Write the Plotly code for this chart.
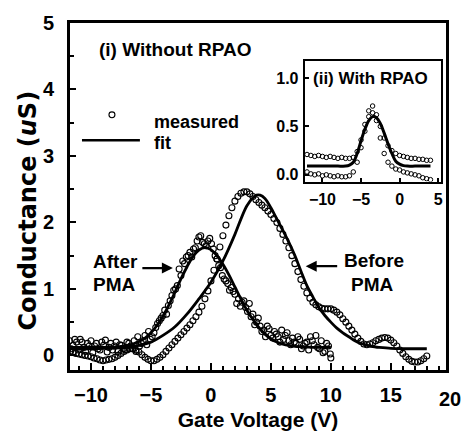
import plotly.graph_objects as go

# ---------------- data ----------------
# Main panel: Before PMA measured (smooth sweep)
before_x = [-11.75 + 0.25 * i for i in range(120)]
before_y = [0.06, 0.05, 0.03, 0.02, 0.01, 0.0, -0.01, -0.02, -0.04, -0.05,
            -0.07, -0.08, -0.07, -0.06, -0.05, -0.03, 0.0, 0.03, 0.06, 0.08,
            0.1, 0.1, 0.08, 0.05, 0.01, -0.03, -0.06, -0.08, -0.08, -0.06,
            -0.03, 0.01, 0.06, 0.11, 0.16, 0.21, 0.26, 0.31, 0.36, 0.41,
            0.46, 0.52, 0.58, 0.65, 0.74, 0.85, 0.97, 1.12, 1.28, 1.45,
            1.63, 1.8, 1.96, 2.1, 2.22, 2.32, 2.39, 2.44, 2.46, 2.46,
            2.43, 2.39, 2.34, 2.3, 2.26, 2.22, 2.17, 2.12, 2.06, 2.0,
            1.91, 1.82, 1.72, 1.62, 1.5, 1.38, 1.26, 1.14, 1.04, 0.94,
            0.86, 0.8, 0.76, 0.73, 0.71, 0.7, 0.7, 0.7, 0.68, 0.65,
            0.61, 0.55, 0.5, 0.44, 0.38, 0.32, 0.26, 0.21, 0.17, 0.16,
            0.17, 0.19, 0.22, 0.24, 0.26, 0.27, 0.26, 0.23, 0.19, 0.14,
            0.08, 0.03, -0.02, -0.06, -0.09, -0.1, -0.1, -0.08, -0.05, -0.01]
before_x = before_x[:len(before_y)]

# After PMA measured (two scattered passes)
afterA_x = [-11.8, -11.5, -11.2, -10.9, -10.6, -10.3, -10.0, -9.7, -9.4, -9.1,
            -8.8, -8.5, -8.2, -7.9, -7.6, -7.3, -7.0, -6.7, -6.4, -6.1,
            -5.8, -5.5, -5.2, -4.9, -4.6, -4.3, -4.0, -3.7, -3.4, -3.1,
            -2.8, -2.5, -2.2, -1.9, -1.6, -1.3, -1.0, -0.7, -0.4, -0.1,
            0.2, 0.5, 0.8, 1.1, 1.4, 1.7, 2.0, 2.3, 2.6, 2.9,
            3.2, 3.5, 3.8, 4.1, 4.4, 4.7, 5.0, 5.3, 5.6, 5.9,
            6.2, 6.5, 6.8, 7.1, 7.4, 7.7, 8.0, 8.3, 8.6, 8.9,
            9.2, 9.5, 9.8, 10.0]
afterA_y = [0.22, 0.15, 0.2, 0.24, 0.12, 0.18, 0.22, 0.14, 0.1, 0.2,
            0.23, 0.12, 0.08, 0.2, 0.16, 0.1, 0.2, 0.14, 0.22, 0.28,
            0.18, 0.3, 0.36, 0.28, 0.42, 0.52, 0.6, 0.62, 0.82, 0.98,
            1.05, 1.2, 1.38, 1.5, 1.48, 1.62, 1.78, 1.7, 1.65, 1.76,
            1.6, 1.45, 1.32, 1.15, 1.08, 1.02, 0.92, 0.85, 0.8, 0.72,
            0.78, 0.62, 0.5, 0.44, 0.38, 0.44, 0.3, 0.36, 0.28, 0.38,
            0.3, 0.22, 0.26, 0.18, 0.24, 0.14, 0.2, 0.28, 0.16, 0.12,
            0.22, 0.06, 0.14, -0.04]
afterB_x = [-11.65, -11.35, -11.05, -10.75, -10.45, -10.15, -9.85, -9.55, -9.25, -8.95,
            -8.65, -8.35, -8.05, -7.75, -7.45, -7.15, -6.85, -6.55, -6.25, -5.95,
            -5.65, -5.35, -5.05, -4.75, -4.45, -4.15, -3.85, -3.55, -3.25, -2.95,
            -2.65, -2.35, -2.05, -1.75, -1.45, -1.15, -0.85, -0.55, -0.25, 0.05,
            0.35, 0.65, 0.95, 1.25, 1.55, 1.85, 2.15, 2.45, 2.75, 3.05,
            3.35, 3.65, 3.95, 4.25, 4.55, 4.85, 5.15, 5.45, 5.75, 6.05,
            6.35, 6.65, 6.95, 7.25, 7.55, 7.85, 8.15, 8.45, 8.75, 9.05,
            9.35, 9.65, 9.95]
afterB_y = [0.1, 0.24, 0.08, 0.2, 0.06, 0.14, 0.04, 0.18, 0.08, 0.15,
            0.05, 0.18, 0.14, 0.06, 0.15, 0.08, 0.18, 0.1, 0.06, 0.14,
            0.22, 0.16, 0.24, 0.34, 0.48, 0.56, 0.68, 0.75, 0.9, 1.0,
            1.3, 1.42, 1.48, 1.55, 1.6, 1.72, 1.8, 1.68, 1.72, 1.68,
            1.5, 1.35, 1.2, 1.12, 0.98, 0.96, 0.78, 0.74, 0.82, 0.66,
            0.58, 0.46, 0.56, 0.36, 0.28, 0.4, 0.26, 0.32, 0.2, 0.24,
            0.34, 0.16, 0.2, 0.28, 0.1, 0.18, 0.08, 0.22, 0.3, 0.1,
            0.04, 0.18, 0.02]

# Fits
fit_after_x = [-12, -11.5, -11, -10.5, -10, -9.5, -9, -8.5, -8, -7.5, -7, -6.5, -6, -5.5,
               -5, -4.5, -4, -3.5, -3, -2.5, -2, -1.5, -1, -0.5, 0, 0.5, 1, 1.5, 2, 2.5,
               3, 3.5, 4, 4.5, 5, 5.5, 6, 6.5, 7, 7.5, 8, 8.5, 9, 9.5, 10]
fit_after_y = [0.12, 0.12, 0.12, 0.12, 0.12, 0.12, 0.121, 0.122, 0.125, 0.135, 0.15, 0.17,
               0.21, 0.26, 0.34, 0.45, 0.59, 0.76, 0.95, 1.15, 1.33, 1.485, 1.585, 1.62,
               1.59, 1.5, 1.37, 1.21, 1.03, 0.85, 0.68, 0.54, 0.42, 0.32, 0.25, 0.2, 0.17,
               0.15, 0.137, 0.13, 0.125, 0.12, 0.12, 0.12, 0.12]
fit_before_x = [-12, -11, -10, -9, -8, -7, -6, -5, -4, -3, -2, -1, 0, 1, 2, 2.5, 3, 3.5,
                3.8, 4.1, 4.5, 5, 5.5, 6, 6.5, 7, 7.5, 8, 8.5, 9, 9.5, 10, 10.5, 11, 11.5,
                12, 12.5, 13, 13.5, 14, 15, 16, 17, 18]
fit_before_y = [0.1, 0.1, 0.1, 0.105, 0.11, 0.12, 0.15, 0.2, 0.3, 0.43, 0.62, 0.85, 1.1,
                1.42, 1.82, 2.05, 2.25, 2.37, 2.41, 2.41, 2.36, 2.22, 2.05, 1.88, 1.7,
                1.5, 1.27, 1.05, 0.88, 0.72, 0.6, 0.5, 0.41, 0.34, 0.28, 0.22, 0.18,
                0.155, 0.13, 0.12, 0.105, 0.1, 0.1, 0.1]

# Inset (ii) With RPAO
inset_x = [-12 + 0.5 * i for i in range(33)]
inset_up = [0.21, 0.2, 0.19, 0.2, 0.19, 0.18, 0.19, 0.18, 0.17, 0.18, 0.17, 0.17, 0.18,
            0.24, 0.36, 0.52, 0.66, 0.71, 0.62, 0.5, 0.38, 0.3, 0.25, 0.22, 0.2, 0.19,
            0.18, 0.17, 0.17, 0.16, 0.16, 0.15, 0.15]
inset_dn = [0.03, 0.01, 0.0, 0.01, -0.01, 0.0, -0.01, -0.02, -0.01, -0.02, -0.02, -0.01,
            0.03, 0.13, 0.28, 0.45, 0.6, 0.64, 0.56, 0.38, 0.22, 0.13, 0.09, 0.06, 0.05,
            0.03, 0.02, 0.01, 0.0, -0.01, -0.03, -0.04, -0.05]
inset_fit_x = [-12, -11, -10, -9, -8, -7, -6.5, -6, -5.5, -5, -4.5, -4, -3.5, -3, -2.5,
               -2, -1.5, -1, -0.5, 0, 0.5, 1, 2, 3, 4]
inset_fit_y = [0.09, 0.09, 0.09, 0.09, 0.09, 0.09, 0.1, 0.13, 0.22, 0.35, 0.47, 0.56, 0.6,
               0.59, 0.53, 0.43, 0.32, 0.22, 0.14, 0.11, 0.095, 0.09, 0.09, 0.09, 0.09]

main_xticks = [-10, -5, 0, 5, 10, 15]
main_yticks = [0, 1, 2, 3, 4, 5]
inset_xticks = [-10, -5, 0, 5]
inset_yticks = [0.0, 0.5, 1.0]
inset_ytext = ["0.0", "0.5", "1.0"]

# ---------------- figure ----------------
W, H = 463, 441
L, R, T, B = 70, 16.5, 17, 63
PW, PH = W - L - R, H - T - B
FONT = "Liberation Sans, Arial, sans-serif"
WIDE = "DejaVu Sans, Liberation Sans, sans-serif"


def px(x):
    return (x - L) / PW


def py(y):
    return (H - B - y) / PH


mk = dict(symbol="circle-open", size=6, color="black", line=dict(width=1.1, color="black"))
mk_in = dict(symbol="circle-open", size=4.5, color="black", line=dict(width=1, color="black"))

fig = go.Figure()
fig.add_trace(go.Scatter(x=before_x, y=before_y, mode="markers", marker=mk, xaxis="x", yaxis="y"))
fig.add_trace(go.Scatter(x=afterA_x, y=afterA_y, mode="markers", marker=mk, xaxis="x", yaxis="y"))
fig.add_trace(go.Scatter(x=afterB_x, y=afterB_y, mode="markers", marker=mk, xaxis="x", yaxis="y"))
fig.add_trace(go.Scatter(x=fit_after_x, y=fit_after_y, mode="lines", line=dict(color="black", width=2.8, shape="spline"), xaxis="x", yaxis="y"))
fig.add_trace(go.Scatter(x=fit_before_x, y=fit_before_y, mode="lines", line=dict(color="black", width=2.8, shape="spline"), xaxis="x", yaxis="y"))

fig.add_trace(go.Scatter(x=inset_x, y=inset_up, mode="markers", marker=mk_in, xaxis="x2", yaxis="y2"))
fig.add_trace(go.Scatter(x=inset_x, y=inset_dn, mode="markers", marker=mk_in, xaxis="x2", yaxis="y2"))
fig.add_trace(go.Scatter(x=inset_fit_x, y=inset_fit_y, mode="lines", line=dict(color="black", width=3, shape="spline"), xaxis="x2", yaxis="y2"))

tickfont = dict(family=FONT, size=20, color="black", weight="bold")
inset_tickfont = dict(family=FONT, size=16, color="black", weight="bold")

fig.update_layout(
    width=W, height=H,
    margin=dict(l=L, r=R, t=T, b=B),
    paper_bgcolor="white", plot_bgcolor="white",
    showlegend=False,
    font=dict(family=FONT, color="black"),
    xaxis=dict(domain=[0, 1], range=[-11.75, 19.6], tickmode="array", tickvals=main_xticks,
               ticks="inside", ticklen=7, tickwidth=2, tickcolor="black",
               minor=dict(dtick=1, tick0=0, ticks="inside", ticklen=4, tickwidth=2, tickcolor="black"),
               showline=True, linewidth=3, linecolor="black", mirror=True, showgrid=False, zeroline=False,
               tickfont=tickfont, ticklabelstandoff=5,
               title=dict(text="Gate Voltage (V)", font=dict(family=FONT, size=21, color="black", weight="bold"), standoff=8)),
    yaxis=dict(domain=[0, 1], range=[-0.22, 5.0], tickmode="array", tickvals=main_yticks,
               ticks="inside", ticklen=6, tickwidth=2, tickcolor="black",
               minor=dict(dtick=0.5, tick0=0, ticks="inside", ticklen=4, tickwidth=2, tickcolor="black"),
               showline=True, linewidth=3, linecolor="black", mirror=True, showgrid=False, zeroline=False,
               tickfont=tickfont, ticklabelstandoff=9),
    xaxis2=dict(domain=[px(305), px(441)], anchor="y2", range=[-12.3, 5.3], tickmode="array", tickvals=inset_xticks,
                ticks="inside", ticklen=4, tickwidth=1.5, tickcolor="black",
                showline=True, linewidth=2, linecolor="black", mirror=True, showgrid=False, zeroline=False,
                tickfont=inset_tickfont, ticklabelstandoff=2),
    yaxis2=dict(domain=[py(182), py(57)], anchor="x2", range=[-0.07, 1.17], tickmode="array", tickvals=inset_yticks,
                ticktext=inset_ytext, ticks="inside", ticklen=4, tickwidth=1.5, tickcolor="black",
                showline=True, linewidth=2, linecolor="black", mirror=True, showgrid=False, zeroline=False,
                tickfont=inset_tickfont, ticklabelstandoff=1),
)


def txt(text, x, y, size, xanchor="left", yanchor="middle", family=FONT, angle=0):
    fig.add_annotation(text=text, x=px(x), y=py(y), xref="paper", yref="paper", showarrow=False,
                       xanchor=xanchor, yanchor=yanchor, textangle=angle,
                       font=dict(family=family, size=size, color="black", weight="bold"))


# y-axis title (placed as text so it can span like the original)
txt("Conductance (<i>u</i>S)", 28, 212, 24, xanchor="center", family=WIDE, angle=-90)
# "20" tick label, just beyond the plotted range
txt("20", 451, 408, 20, xanchor="center")

txt("(i) Without RPAO", 97, 45, 19)
txt("(ii) With RPAO", 311, 75, 17)
txt("measured", 152, 120, 18)
txt("fit", 152, 142, 18)
txt("After", 91, 265, 19)
txt("PMA", 91, 289, 19)
txt("Before", 342, 264, 19)
txt("PMA", 349, 289, 19)

# legend symbols
fig.add_shape(type="circle", xref="paper", yref="paper", x0=px(109), x1=px(115), y0=py(115.5), y1=py(109.5),
              line=dict(color="black", width=1.1))
fig.add_shape(type="line", xref="paper", yref="paper", x0=px(82), x1=px(140), y0=py(139), y1=py(139),
              line=dict(color="black", width=2.5))

# arrows
fig.add_annotation(x=px(173), y=py(272), xref="paper", yref="paper", ax=-32, ay=0,
                   showarrow=True, arrowhead=2, arrowsize=1, arrowwidth=2.2,
                   arrowcolor="black", text="")
fig.add_annotation(x=px(306), y=py(270), xref="paper", yref="paper", ax=33, ay=0,
                   showarrow=True, arrowhead=2, arrowsize=1, arrowwidth=2.2,
                   arrowcolor="black", text="")

fig.write_html("out.html")
